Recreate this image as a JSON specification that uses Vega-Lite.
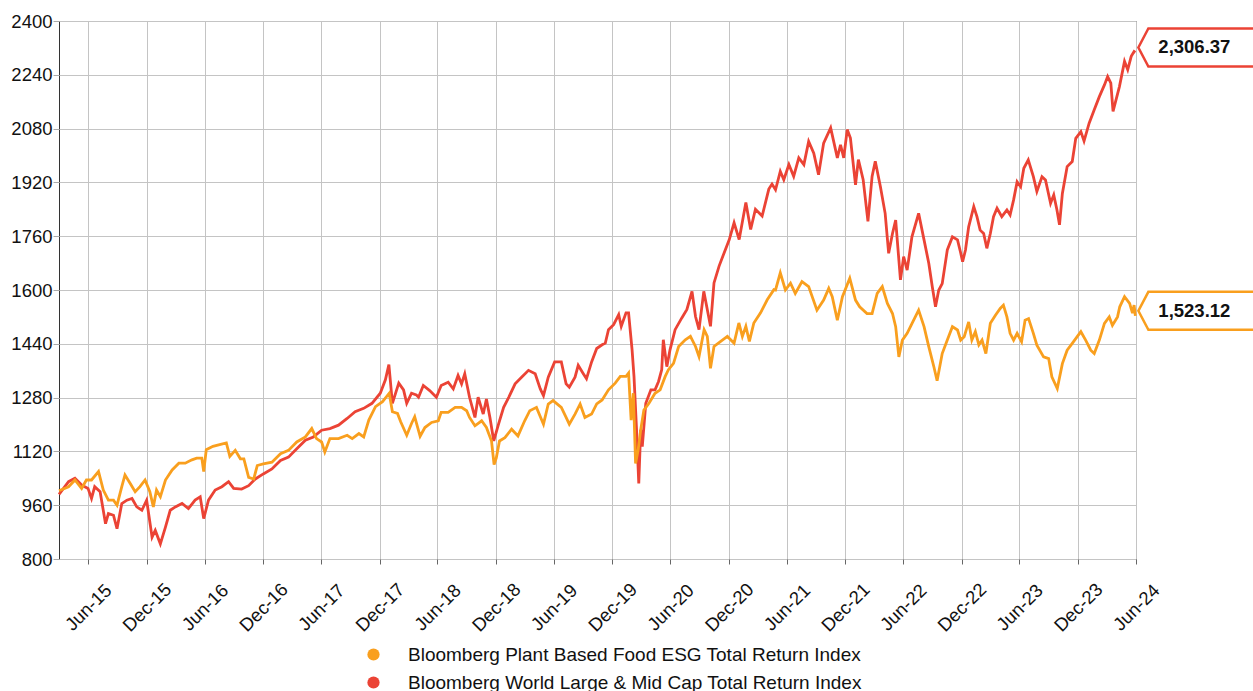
{
  "$schema": "https://vega.github.io/schema/vega-lite/v6.json",
  "width": 1077,
  "height": 538,
  "autosize": {"type": "none"},
  "padding": {"left": 59, "top": 21, "right": 117, "bottom": 132},
  "background": "white",
  "config": {
    "font": "Liberation Sans",
    "view": {"stroke": "#333", "strokeWidth": 1}
  },
  "datasets": {
    "world": [
      {"d":"2015-03-31","v":992},{"d":"2015-04-30","v":1030},{"d":"2015-05-20","v":1040},{"d":"2015-06-10","v":1020},{"d":"2015-06-30","v":1010},{"d":"2015-07-11","v":980},{"d":"2015-07-21","v":1015},{"d":"2015-08-07","v":1000},{"d":"2015-08-24","v":905},{"d":"2015-09-02","v":935},{"d":"2015-09-18","v":930},{"d":"2015-09-29","v":890},{"d":"2015-10-14","v":965},{"d":"2015-10-30","v":975},{"d":"2015-11-15","v":980},{"d":"2015-11-30","v":955},{"d":"2015-12-16","v":945},{"d":"2015-12-31","v":975},{"d":"2016-01-17","v":865},{"d":"2016-01-27","v":885},{"d":"2016-02-12","v":845},{"d":"2016-02-28","v":895},{"d":"2016-03-14","v":945},{"d":"2016-03-30","v":955},{"d":"2016-04-20","v":965},{"d":"2016-05-10","v":950},{"d":"2016-05-31","v":975},{"d":"2016-06-16","v":985},{"d":"2016-06-27","v":920},{"d":"2016-07-12","v":975},{"d":"2016-08-02","v":1005},{"d":"2016-08-23","v":1015},{"d":"2016-09-13","v":1030},{"d":"2016-09-29","v":1010},{"d":"2016-10-24","v":1008},{"d":"2016-11-15","v":1018},{"d":"2016-12-06","v":1038},{"d":"2016-12-31","v":1053},{"d":"2017-01-27","v":1068},{"d":"2017-02-23","v":1093},{"d":"2017-03-20","v":1103},{"d":"2017-04-15","v":1128},{"d":"2017-05-12","v":1153},{"d":"2017-06-06","v":1163},{"d":"2017-07-02","v":1183},{"d":"2017-07-28","v":1188},{"d":"2017-08-24","v":1198},{"d":"2017-09-20","v":1218},{"d":"2017-10-15","v":1238},{"d":"2017-11-11","v":1248},{"d":"2017-12-07","v":1263},{"d":"2018-01-02","v":1293},{"d":"2018-01-18","v":1333},{"d":"2018-01-29","v":1378},{"d":"2018-02-09","v":1263},{"d":"2018-03-01","v":1323},{"d":"2018-03-16","v":1303},{"d":"2018-03-26","v":1263},{"d":"2018-04-10","v":1293},{"d":"2018-04-25","v":1288},{"d":"2018-05-02","v":1281},{"d":"2018-05-17","v":1316},{"d":"2018-06-06","v":1301},{"d":"2018-06-27","v":1281},{"d":"2018-07-12","v":1316},{"d":"2018-08-03","v":1326},{"d":"2018-08-19","v":1306},{"d":"2018-09-03","v":1346},{"d":"2018-09-14","v":1321},{"d":"2018-09-24","v":1351},{"d":"2018-10-09","v":1281},{"d":"2018-10-26","v":1221},{"d":"2018-11-05","v":1281},{"d":"2018-11-21","v":1231},{"d":"2018-12-01","v":1276},{"d":"2018-12-12","v":1221},{"d":"2018-12-24","v":1151},{"d":"2019-01-08","v":1201},{"d":"2019-01-24","v":1251},{"d":"2019-02-09","v":1281},{"d":"2019-03-01","v":1321},{"d":"2019-03-22","v":1341},{"d":"2019-04-12","v":1361},{"d":"2019-05-03","v":1351},{"d":"2019-05-19","v":1306},{"d":"2019-05-29","v":1286},{"d":"2019-06-13","v":1341},{"d":"2019-07-03","v":1386},{"d":"2019-07-24","v":1386},{"d":"2019-08-08","v":1321},{"d":"2019-08-18","v":1311},{"d":"2019-09-05","v":1341},{"d":"2019-09-15","v":1376},{"d":"2019-10-01","v":1351},{"d":"2019-10-11","v":1336},{"d":"2019-10-27","v":1386},{"d":"2019-11-12","v":1426},{"d":"2019-11-29","v":1437},{"d":"2019-12-09","v":1442},{"d":"2019-12-19","v":1482},{"d":"2020-01-04","v":1497},{"d":"2020-01-20","v":1527},{"d":"2020-01-28","v":1492},{"d":"2020-02-12","v":1532},{"d":"2020-02-20","v":1532},{"d":"2020-03-02","v":1422},{"d":"2020-03-08","v":1343},{"d":"2020-03-16","v":1184},{"d":"2020-03-23","v":1025},{"d":"2020-03-29","v":1184},{"d":"2020-04-03","v":1134},{"d":"2020-04-14","v":1263},{"d":"2020-04-30","v":1303},{"d":"2020-05-13","v":1303},{"d":"2020-05-24","v":1328},{"d":"2020-06-03","v":1363},{"d":"2020-06-08","v":1452},{"d":"2020-06-19","v":1372},{"d":"2020-06-29","v":1422},{"d":"2020-07-15","v":1482},{"d":"2020-08-05","v":1517},{"d":"2020-08-21","v":1542},{"d":"2020-09-06","v":1596},{"d":"2020-09-17","v":1521},{"d":"2020-09-28","v":1482},{"d":"2020-10-13","v":1596},{"d":"2020-11-03","v":1492},{"d":"2020-11-14","v":1621},{"d":"2020-11-30","v":1671},{"d":"2020-12-16","v":1711},{"d":"2021-01-01","v":1750},{"d":"2021-01-16","v":1800},{"d":"2021-02-01","v":1750},{"d":"2021-02-22","v":1860},{"d":"2021-03-09","v":1780},{"d":"2021-03-24","v":1840},{"d":"2021-04-14","v":1820},{"d":"2021-05-05","v":1900},{"d":"2021-05-15","v":1915},{"d":"2021-05-26","v":1898},{"d":"2021-06-10","v":1953},{"d":"2021-06-21","v":1928},{"d":"2021-07-07","v":1973},{"d":"2021-07-22","v":1938},{"d":"2021-08-07","v":1993},{"d":"2021-08-23","v":1973},{"d":"2021-09-07","v":2042},{"d":"2021-09-23","v":2007},{"d":"2021-10-08","v":1943},{"d":"2021-10-24","v":2037},{"d":"2021-11-15","v":2082},{"d":"2021-12-06","v":1993},{"d":"2021-12-16","v":2032},{"d":"2021-12-26","v":1993},{"d":"2022-01-06","v":2077},{"d":"2022-01-16","v":2052},{"d":"2022-02-01","v":1913},{"d":"2022-02-10","v":1988},{"d":"2022-02-25","v":1928},{"d":"2022-03-12","v":1804},{"d":"2022-03-25","v":1938},{"d":"2022-04-04","v":1983},{"d":"2022-04-20","v":1908},{"d":"2022-05-05","v":1828},{"d":"2022-05-16","v":1709},{"d":"2022-05-28","v":1768},{"d":"2022-06-07","v":1808},{"d":"2022-06-22","v":1630},{"d":"2022-07-02","v":1699},{"d":"2022-07-13","v":1659},{"d":"2022-07-28","v":1758},{"d":"2022-08-18","v":1828},{"d":"2022-09-04","v":1749},{"d":"2022-09-19","v":1679},{"d":"2022-09-30","v":1609},{"d":"2022-10-10","v":1550},{"d":"2022-10-20","v":1599},{"d":"2022-10-31","v":1619},{"d":"2022-11-16","v":1719},{"d":"2022-12-02","v":1758},{"d":"2022-12-18","v":1749},{"d":"2022-12-28","v":1710},{"d":"2023-01-03","v":1684},{"d":"2023-01-12","v":1719},{"d":"2023-01-22","v":1788},{"d":"2023-02-07","v":1848},{"d":"2023-02-17","v":1818},{"d":"2023-02-27","v":1778},{"d":"2023-03-10","v":1768},{"d":"2023-03-20","v":1724},{"d":"2023-03-31","v":1768},{"d":"2023-04-10","v":1818},{"d":"2023-04-21","v":1843},{"d":"2023-05-06","v":1818},{"d":"2023-05-22","v":1838},{"d":"2023-06-01","v":1823},{"d":"2023-06-12","v":1868},{"d":"2023-06-23","v":1922},{"d":"2023-07-04","v":1907},{"d":"2023-07-14","v":1962},{"d":"2023-07-28","v":1987},{"d":"2023-08-13","v":1937},{"d":"2023-08-24","v":1893},{"d":"2023-09-09","v":1937},{"d":"2023-09-20","v":1927},{"d":"2023-10-06","v":1858},{"d":"2023-10-16","v":1883},{"d":"2023-10-26","v":1838},{"d":"2023-11-03","v":1794},{"d":"2023-11-12","v":1887},{"d":"2023-11-27","v":1967},{"d":"2023-12-13","v":1982},{"d":"2023-12-24","v":2051},{"d":"2024-01-09","v":2071},{"d":"2024-01-19","v":2043},{"d":"2024-02-04","v":2096},{"d":"2024-02-20","v":2136},{"d":"2024-03-07","v":2175},{"d":"2024-03-23","v":2210},{"d":"2024-04-02","v":2235},{"d":"2024-04-12","v":2215},{"d":"2024-04-19","v":2131},{"d":"2024-05-09","v":2205},{"d":"2024-05-25","v":2280},{"d":"2024-06-04","v":2255},{"d":"2024-06-15","v":2295},{"d":"2024-06-24","v":2309},{"d":"2024-06-28","v":2306.37}
    ],
    "plant": [
      {"d":"2015-03-31","v":1003},{"d":"2015-04-30","v":1015},{"d":"2015-05-20","v":1035},{"d":"2015-06-10","v":1010},{"d":"2015-06-25","v":1035},{"d":"2015-07-11","v":1035},{"d":"2015-08-02","v":1060},{"d":"2015-08-17","v":1005},{"d":"2015-09-02","v":975},{"d":"2015-09-18","v":975},{"d":"2015-09-29","v":960},{"d":"2015-10-14","v":1015},{"d":"2015-10-24","v":1050},{"d":"2015-11-09","v":1025},{"d":"2015-11-25","v":1000},{"d":"2015-12-10","v":1015},{"d":"2015-12-26","v":1035},{"d":"2016-01-10","v":1000},{"d":"2016-01-21","v":955},{"d":"2016-01-31","v":1005},{"d":"2016-02-12","v":985},{"d":"2016-02-28","v":1035},{"d":"2016-03-20","v":1065},{"d":"2016-04-10","v":1085},{"d":"2016-04-30","v":1085},{"d":"2016-05-21","v":1095},{"d":"2016-06-05","v":1100},{"d":"2016-06-21","v":1100},{"d":"2016-06-27","v":1060},{"d":"2016-07-05","v":1125},{"d":"2016-07-26","v":1135},{"d":"2016-08-16","v":1140},{"d":"2016-09-06","v":1145},{"d":"2016-09-17","v":1105},{"d":"2016-10-04","v":1123},{"d":"2016-10-20","v":1098},{"d":"2016-10-31","v":1098},{"d":"2016-11-15","v":1043},{"d":"2016-12-01","v":1038},{"d":"2016-12-12","v":1078},{"d":"2016-12-31","v":1083},{"d":"2017-01-27","v":1088},{"d":"2017-02-23","v":1113},{"d":"2017-03-20","v":1123},{"d":"2017-04-15","v":1148},{"d":"2017-05-12","v":1163},{"d":"2017-06-01","v":1188},{"d":"2017-06-16","v":1158},{"d":"2017-07-02","v":1148},{"d":"2017-07-12","v":1118},{"d":"2017-07-28","v":1158},{"d":"2017-08-24","v":1158},{"d":"2017-09-20","v":1168},{"d":"2017-10-06","v":1158},{"d":"2017-10-27","v":1173},{"d":"2017-11-11","v":1163},{"d":"2017-11-27","v":1213},{"d":"2017-12-18","v":1253},{"d":"2018-01-09","v":1268},{"d":"2018-01-30","v":1293},{"d":"2018-02-09","v":1238},{"d":"2018-02-25","v":1233},{"d":"2018-03-07","v":1208},{"d":"2018-03-26","v":1168},{"d":"2018-04-10","v":1203},{"d":"2018-04-20","v":1223},{"d":"2018-05-07","v":1165},{"d":"2018-05-22","v":1191},{"d":"2018-06-12","v":1206},{"d":"2018-07-03","v":1211},{"d":"2018-07-12","v":1236},{"d":"2018-08-03","v":1236},{"d":"2018-08-25","v":1251},{"d":"2018-09-14","v":1251},{"d":"2018-09-30","v":1241},{"d":"2018-10-09","v":1221},{"d":"2018-10-26","v":1196},{"d":"2018-11-16","v":1211},{"d":"2018-12-01","v":1191},{"d":"2018-12-17","v":1151},{"d":"2018-12-25","v":1081},{"d":"2019-01-01","v":1101},{"d":"2019-01-11","v":1151},{"d":"2019-01-28","v":1161},{"d":"2019-02-18","v":1186},{"d":"2019-03-10","v":1166},{"d":"2019-03-31","v":1211},{"d":"2019-04-16","v":1241},{"d":"2019-05-07","v":1251},{"d":"2019-05-29","v":1201},{"d":"2019-06-13","v":1261},{"d":"2019-06-28","v":1271},{"d":"2019-07-24","v":1251},{"d":"2019-08-08","v":1221},{"d":"2019-08-18","v":1201},{"d":"2019-09-05","v":1231},{"d":"2019-09-21","v":1261},{"d":"2019-10-06","v":1221},{"d":"2019-10-27","v":1231},{"d":"2019-11-12","v":1261},{"d":"2019-11-29","v":1273},{"d":"2019-12-19","v":1303},{"d":"2020-01-09","v":1323},{"d":"2020-01-25","v":1343},{"d":"2020-02-12","v":1343},{"d":"2020-02-20","v":1353},{"d":"2020-02-28","v":1213},{"d":"2020-03-06","v":1293},{"d":"2020-03-13","v":1084},{"d":"2020-03-21","v":1124},{"d":"2020-03-29","v":1184},{"d":"2020-04-08","v":1243},{"d":"2020-04-24","v":1263},{"d":"2020-05-13","v":1293},{"d":"2020-05-29","v":1303},{"d":"2020-06-14","v":1343},{"d":"2020-06-24","v":1363},{"d":"2020-07-10","v":1382},{"d":"2020-07-26","v":1432},{"d":"2020-08-16","v":1452},{"d":"2020-09-01","v":1462},{"d":"2020-09-17","v":1432},{"d":"2020-09-28","v":1402},{"d":"2020-10-14","v":1482},{"d":"2020-10-24","v":1462},{"d":"2020-11-03","v":1367},{"d":"2020-11-14","v":1432},{"d":"2020-12-05","v":1447},{"d":"2020-12-26","v":1462},{"d":"2021-01-16","v":1442},{"d":"2021-01-31","v":1502},{"d":"2021-02-11","v":1462},{"d":"2021-02-22","v":1492},{"d":"2021-03-05","v":1447},{"d":"2021-03-19","v":1502},{"d":"2021-04-09","v":1532},{"d":"2021-04-30","v":1571},{"d":"2021-05-21","v":1601},{"d":"2021-05-26","v":1600},{"d":"2021-06-10","v":1651},{"d":"2021-06-26","v":1600},{"d":"2021-07-12","v":1620},{"d":"2021-07-27","v":1590},{"d":"2021-08-17","v":1625},{"d":"2021-09-07","v":1610},{"d":"2021-10-03","v":1540},{"d":"2021-10-24","v":1570},{"d":"2021-11-09","v":1605},{"d":"2021-11-20","v":1580},{"d":"2021-12-06","v":1510},{"d":"2021-12-22","v":1580},{"d":"2022-01-14","v":1635},{"d":"2022-02-01","v":1570},{"d":"2022-02-14","v":1550},{"d":"2022-03-09","v":1530},{"d":"2022-03-25","v":1530},{"d":"2022-04-10","v":1590},{"d":"2022-04-26","v":1610},{"d":"2022-05-12","v":1560},{"d":"2022-05-28","v":1530},{"d":"2022-06-07","v":1491},{"d":"2022-06-17","v":1401},{"d":"2022-06-28","v":1451},{"d":"2022-07-13","v":1471},{"d":"2022-07-28","v":1500},{"d":"2022-08-18","v":1540},{"d":"2022-09-04","v":1491},{"d":"2022-09-19","v":1431},{"d":"2022-10-05","v":1371},{"d":"2022-10-15","v":1330},{"d":"2022-10-31","v":1411},{"d":"2022-11-16","v":1451},{"d":"2022-12-02","v":1491},{"d":"2022-12-18","v":1481},{"d":"2022-12-28","v":1451},{"d":"2023-01-08","v":1461},{"d":"2023-01-22","v":1505},{"d":"2023-02-01","v":1451},{"d":"2023-02-12","v":1476},{"d":"2023-02-23","v":1437},{"d":"2023-03-05","v":1451},{"d":"2023-03-17","v":1411},{"d":"2023-03-31","v":1501},{"d":"2023-04-16","v":1525},{"d":"2023-05-01","v":1545},{"d":"2023-05-11","v":1555},{"d":"2023-05-22","v":1520},{"d":"2023-06-01","v":1471},{"d":"2023-06-12","v":1451},{"d":"2023-06-23","v":1471},{"d":"2023-07-07","v":1446},{"d":"2023-07-18","v":1510},{"d":"2023-07-29","v":1515},{"d":"2023-08-13","v":1471},{"d":"2023-08-24","v":1436},{"d":"2023-09-14","v":1401},{"d":"2023-09-30","v":1396},{"d":"2023-10-10","v":1342},{"d":"2023-10-27","v":1307},{"d":"2023-11-12","v":1381},{"d":"2023-11-27","v":1421},{"d":"2023-12-13","v":1441},{"d":"2024-01-09","v":1476},{"d":"2024-01-24","v":1451},{"d":"2024-02-09","v":1421},{"d":"2024-02-20","v":1411},{"d":"2024-03-07","v":1451},{"d":"2024-03-23","v":1501},{"d":"2024-04-07","v":1520},{"d":"2024-04-17","v":1495},{"d":"2024-05-03","v":1520},{"d":"2024-05-10","v":1550},{"d":"2024-05-25","v":1580},{"d":"2024-06-10","v":1560},{"d":"2024-06-19","v":1531},{"d":"2024-06-24","v":1555},{"d":"2024-06-28","v":1523.12}
    ],
    "ends": [
      {"d":"2024-06-28","s":"World","v":2306.37},
      {"d":"2024-06-28","s":"Plant","v":1523.12}
    ]
  },
  "encoding": {
    "x": {
      "field": "d", "type": "temporal",
      "scale": {"domain": [{"year":2015,"month":3,"date":31},{"year":2024,"month":6,"date":30}]},
      "axis": {
        "title": null,
        "values": [
          {"year":2015,"month":6,"date":30},{"year":2015,"month":12,"date":31},
          {"year":2016,"month":6,"date":30},{"year":2016,"month":12,"date":31},
          {"year":2017,"month":6,"date":30},{"year":2017,"month":12,"date":31},
          {"year":2018,"month":6,"date":30},{"year":2018,"month":12,"date":31},
          {"year":2019,"month":6,"date":30},{"year":2019,"month":12,"date":31},
          {"year":2020,"month":6,"date":30},{"year":2020,"month":12,"date":31},
          {"year":2021,"month":6,"date":30},{"year":2021,"month":12,"date":31},
          {"year":2022,"month":6,"date":30},{"year":2022,"month":12,"date":31},
          {"year":2023,"month":6,"date":30},{"year":2023,"month":12,"date":31},
          {"year":2024,"month":6,"date":30}
        ],
        "format": "%b-%y",
        "labelAngle": -45,
        "labelAlign": "center",
        "labelBaseline": "middle",
        "labelPadding": 43,
        "labelFontSize": 18.5,
        "labelColor": "#111",
        "labelOverlap": false,
        "labelFlush": false,
        "labelBound": false,
        "tickSize": 5,
        "tickColor": "#666",
        "domain": false,
        "grid": true,
        "gridColor": "#c4c4c4"
      }
    },
    "y": {
      "field": "v", "type": "quantitative",
      "scale": {"domain": [800, 2400], "nice": false, "zero": false},
      "axis": {
        "title": null,
        "values": [800, 960, 1120, 1280, 1440, 1600, 1760, 1920, 2080, 2240, 2400],
        "format": "d",
        "labelFontSize": 18.5,
        "labelColor": "#111",
        "labelPadding": 1,
        "labelOverlap": false,
        "labelFlush": false,
        "tickSize": 6,
        "tickColor": "#aaa",
        "domain": false,
        "grid": true,
        "gridColor": "#c4c4c4"
      }
    }
  },
  "layer": [
    {
      "data": {"name": "world"},
      "mark": {"type": "line", "strokeWidth": 2.8},
      "encoding": {
        "color": {
          "datum": "Bloomberg World Large & Mid Cap Total Return Index",
          "type": "nominal",
          "scale": {
            "domain": ["Bloomberg Plant Based Food ESG Total Return Index", "Bloomberg World Large & Mid Cap Total Return Index"],
            "range": ["#f99f1e", "#eb4335"]
          },
          "legend": {
            "title": null,
            "orient": "none",
            "legendX": 305,
            "legendY": 624,
            "direction": "vertical",
            "symbolType": "circle",
            "symbolSize": 150,
            "symbolStrokeWidth": 0,
            "labelFontSize": 19,
            "labelColor": "#111",
            "labelLimit": 900,
            "labelOffset": 25,
            "rowPadding": 8,
            "padding": 0,
            "encode": {"symbols": {"update": {"fill": {"scale": "color", "field": "value"}, "opacity": {"value": 1}}}}
          }
        }
      }
    },
    {
      "data": {"name": "plant"},
      "mark": {"type": "line", "strokeWidth": 2.8},
      "encoding": {
        "color": {
          "datum": "Bloomberg Plant Based Food ESG Total Return Index",
          "type": "nominal"
        }
      }
    },
    {
      "data": {"name": "ends"},
      "mark": {"type": "point", "shape": "M0,0L0.5,-0.95L7,-0.95L7,0.95L0.5,0.95Z", "size": 1600, "filled": true, "fill": "white", "strokeWidth": 2.5, "opacity": 1, "xOffset": 3, "yOffset": -5},
      "encoding": {
        "stroke": {"field": "s", "type": "nominal", "scale": {"domain": ["World", "Plant"], "range": ["#eb4335", "#f99f1e"]}, "legend": null}
      }
    },
    {
      "data": {"name": "ends"},
      "mark": {"type": "text", "align": "left", "baseline": "middle", "dx": 23, "dy": -5, "fontSize": 18.5, "fontWeight": "bold", "color": "#111"},
      "encoding": {
        "text": {"field": "v", "type": "quantitative", "format": ",.2f"}
      }
    }
  ]
}
